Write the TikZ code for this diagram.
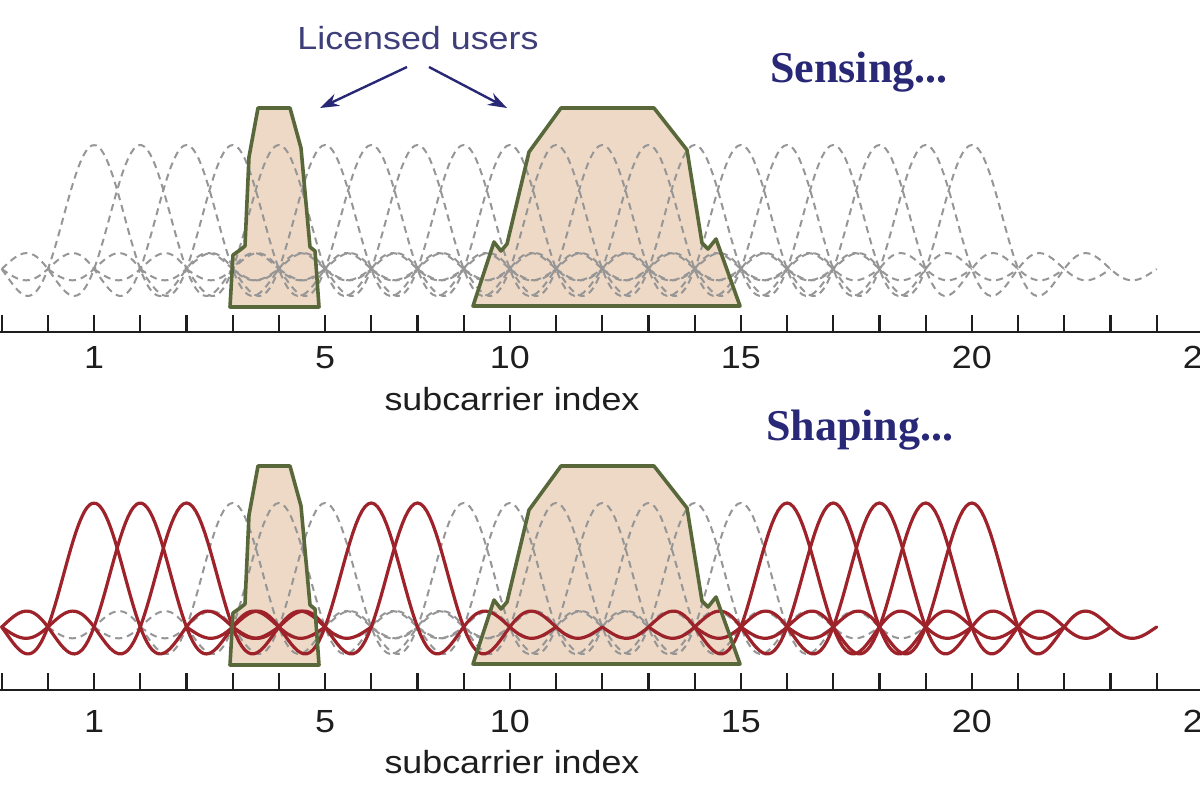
\documentclass[tikz,border=0pt]{standalone}
\usepackage{fontspec}
\setmainfont{Liberation Sans}[FakeStretch=1.12]
\newfontfamily\stagefont{Liberation Serif}
\usetikzlibrary{arrows.meta}

\definecolor{bandgreen}{RGB}{88,104,58}
\definecolor{bandfill}{RGB}{238,217,198}
\definecolor{actred}{RGB}{158,34,42}
\definecolor{subgray}{RGB}{150,150,150}
\definecolor{labblue}{RGB}{62,62,122}
\definecolor{stageblue}{RGB}{40,40,118}
\definecolor{axisgray}{RGB}{30,30,30}

\tikzset{
  puone/.style={insert path={(230,307) -- (233,255) -- (240,250) -- (245,246) -- (249,157) -- (258,108)
    -- (290,108) -- (301,148) -- (310,247) -- (315,251) -- (319,307) -- cycle}},
  putwo/.style={insert path={(473,306) -- (494,242) -- (501,251) -- (507,244) -- (529,152) -- (561,108)
    -- (654,108) -- (687,150) -- (702,243) -- (708,249) -- (716,239) -- (740,306) -- cycle}},
}

% one panel: #1 idle subcarriers, #2 active subcarriers
\newcommand\spectrum[2]{%
  \fill[bandfill,puone];
  \fill[bandfill,putwo];
  \foreach \c in {#1} {
    \pgfmathsetmacro\lo{max(-4,-\c)}
    \draw[sub] plot[domain=\lo:4,samples=121] ({tk(\c+\x)},{269-124*snc(\x)});
  }
  \foreach \c in {#2} {
    \pgfmathsetmacro\lo{max(-4,-\c)}
    \draw[act] plot[domain=\lo:4,samples=121] ({tk(\c+\x)},{269-124*snc(\x)});
  }
  \draw[bandline,puone];
  \draw[bandline,putwo];
  \draw[axisline] (0,332) -- (1200,332);
  \foreach \k in {0,...,25}
    \draw[tickline] ({tk(\k)},332) -- ++(0,-17);
}

\begin{document}
\begin{tikzpicture}[x=1pt,y=-1pt,line join=round,
    declare function={snc(\t)=sin(180*(\t+0.001))/(pi*(\t+0.001)); tk(\k)=1.7+46.2*\k;},
    sub/.style={subgray,line width=2pt,dash pattern=on 7pt off 5pt},
    act/.style={actred,line width=3.2pt,line cap=round},
    bandline/.style={bandgreen,line width=3.6pt},
    axisline/.style={axisgray,line width=2.6pt},
    tickline/.style={axisgray,line width=2.2pt},
    ticklab/.style={anchor=base,inner sep=0pt,text=axisgray,font=\fontsize{32}{36}\selectfont},
    stage/.style={anchor=base west,inner sep=0pt,text=stageblue,font=\fontsize{44}{48}\selectfont\stagefont\bfseries},
    arr/.style={stageblue,line width=2.4pt,-{Stealth[length=19pt,width=13pt]}}]
  \fill[white] (0,0) rectangle (1200,800);
  \useasboundingbox (0,0) rectangle (1200,800);
  \clip (0,0) rectangle (1200,800);

  % sensing
  \spectrum{2,...,21}{}
  \foreach \k/\lab in {2/1,7/5,11/10,16/15,21/20,26/25}
    \node[ticklab] (tt\lab) at ({tk(\k)},368) {\lab};
  \node[ticklab] (txlab) at (512,410) {subcarrier index};
  \node[stage] (sensing) at (770,82) {Sensing...};
  \node[ticklab,text=labblue] (lic) at (418,50) {Licensed users};
  \coordinate (lica) at (407,67);
  \coordinate (licb) at (429,67);
  \coordinate (puonetip) at (320,108);
  \coordinate (putwotip) at (507,108);
  \draw[arr] (lica) -- (puonetip);
  \draw[arr] (licb) -- (putwotip);

  % shaping
  \begin{scope}[yshift=-358pt]
    \spectrum{5,6,7,10,11,...,16}{2,3,4,8,9,17,18,...,21}
  \end{scope}
  \foreach \k/\lab in {2/1,7/5,11/10,16/15,21/20,26/25}
    \node[ticklab] (bt\lab) at ({tk(\k)},732) {\lab};
  \node[ticklab] (bxlab) at (512,773) {subcarrier index};
  \node[stage] (shaping) at (766,440) {Shaping...};
\end{tikzpicture}
\end{document}
